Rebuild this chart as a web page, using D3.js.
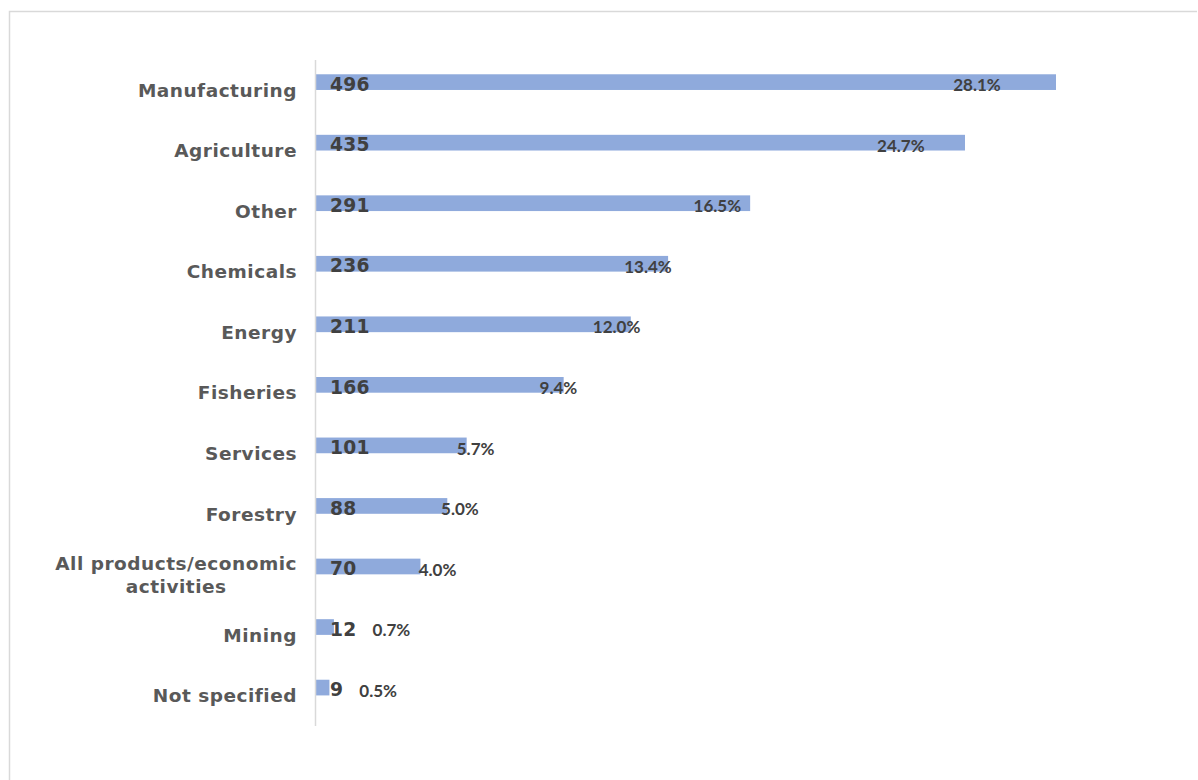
<!DOCTYPE html>
<html>
<head>
<meta charset="utf-8">
<script src="https://cdn.jsdelivr.net/npm/d3@7"></script>
<style>
  html, body { margin: 0; padding: 0; background: #fff; }
  svg { display: block; }
</style>
</head>
<body>
<svg id="chart" width="1198" height="780"></svg>
<script>
// Sectors, counts and their share of the total
const categories = [
  "Manufacturing", "Agriculture", "Other", "Chemicals", "Energy",
  "Fisheries", "Services", "Forestry", "All products/economic activities",
  "Mining", "Not specified"
];
const counts = [496, 435, 291, 236, 211, 166, 101, 88, 70, 12, 9];
const shares = [28.1, 24.7, 16.5, 13.4, 12.0, 9.4, 5.7, 5.0, 4.0, 0.7, 0.5];
// Wrapped category labels
const labelLines = {
  "All products/economic activities": ["All products/economic", "activities"]
};

const svg = d3.select("#chart");

const plot = { left: 316, right: 1198, top: 60, bottom: 726 };

// Frame (top and left edges)
svg.append("path")
  .attr("d", "M9.5,800 V11.5 H1197")
  .attr("fill", "none")
  .attr("stroke", "#d9d9d9")
  .attr("stroke-width", 1.5);

const y = d3.scaleBand()
  .domain(categories)
  .range([plot.top, plot.bottom]);

const x = d3.scaleLinear()
  .domain([0, 496])
  .range([plot.left, 1056]);

// Position scale for the share labels
const xShare = d3.scaleLinear()
  .domain([0, 28.1])
  .range([348, 977]);

const barH = 15.7;
const rows = categories.map((c, i) => ({ cat: c, n: counts[i], p: shares[i] }));

// Bars
svg.append("g").selectAll("rect")
  .data(rows)
  .join("rect")
  .attr("x", x(0))
  .attr("y", d => y(d.cat) + y.bandwidth() / 2 - barH - 0.3)
  .attr("width", d => x(d.n) - x(0))
  .attr("height", barH)
  .attr("fill", "#8faadc");

// Vertical axis line
svg.append("line")
  .attr("x1", 315.5).attr("x2", 315.5)
  .attr("y1", plot.top).attr("y2", plot.bottom)
  .attr("stroke", "#d9d9d9")
  .attr("stroke-width", 1.5);

// Category labels
const catFs = 18.5;
const catG = svg.append("g")
  .attr("font-family", "'DejaVu Sans', Verdana, sans-serif")
  .attr("font-weight", "bold")
  .attr("font-size", catFs)
  .attr("letter-spacing", "0.5px")
  .attr("fill", "#595959");

rows.forEach(d => {
  const lines = labelLines[d.cat] || [d.cat];
  const cy = y(d.cat) + y.bandwidth() / 2;
  const lh = 23;
  const t = catG.append("text")
    .attr("y", cy + catFs * 0.35 - (lines.length - 1) * lh / 2);
  lines.forEach((ln, j) => {
    t.append("tspan")
      .attr("x", 297)
      .attr("dy", j === 0 ? 0 : lh)
      .text(ln);
  });
  if (lines.length > 1) {
    // centre the wrapped lines under the widest one, right-aligned to the axis
    const spans = t.selectAll("tspan").nodes();
    const widths = spans.map(s => s.getComputedTextLength());
    const maxW = d3.max(widths);
    spans.forEach((s, j) => {
      d3.select(s).attr("x", 297 - maxW + (maxW - widths[j]) / 2);
    });
  } else {
    t.attr("text-anchor", "end");
  }
});

// Count labels at the start of each bar
const valG = svg.append("g")
  .attr("font-family", "'DejaVu Sans', Verdana, sans-serif")
  .attr("font-weight", "bold")
  .attr("font-size", 18.7)
  .attr("letter-spacing", "0.3px")
  .attr("fill", "#404040");

const valEnds = [];
rows.forEach(d => {
  const t = valG.append("text")
    .attr("x", x(0) + 14)
    .attr("y", y(d.cat) + y.bandwidth() / 2 + 0.5)
    .text(d.n);
  valEnds.push(x(0) + 14 + t.node().getComputedTextLength());
});

// Share labels
const pctG = svg.append("g")
  .attr("font-family", "Lato, 'Open Sans', sans-serif")
  .attr("font-weight", "bold")
  .attr("font-size", 17)
  .attr("fill", "#404040");

rows.forEach((d, i) => {
  const t = pctG.append("text")
    .attr("y", y(d.cat) + y.bandwidth() / 2 + 1)
    .text(d.p.toFixed(1) + "%");
  const w = t.node().getComputedTextLength();
  const start = Math.max(xShare(d.p) - w / 2, valEnds[i] + 16);
  t.attr("x", start);
});
</script>
</body>
</html>
